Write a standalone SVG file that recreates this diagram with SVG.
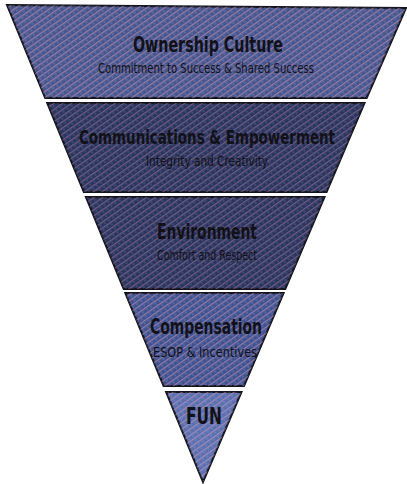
<svg xmlns="http://www.w3.org/2000/svg" width="407" height="484" viewBox="0 0 407 484">
<style>
.band{stroke:#141420;stroke-width:2;stroke-linejoin:miter}
.tex{fill:url(#tex);stroke:none}
.t{font-family:"DejaVu Sans Condensed","DejaVu Sans",sans-serif;font-weight:bold;fill:#121118;text-anchor:middle}
.s{font-family:"DejaVu Sans Condensed","DejaVu Sans",sans-serif;font-weight:normal;fill:#121118;text-anchor:middle}
</style>
<defs>
<pattern id="tex" width="5" height="5" patternUnits="userSpaceOnUse" patternTransform="rotate(-35)">
<rect x="0" y="0" width="5" height="1.3" fill="#e0a8c0" opacity="0.5"/>
<rect x="2" y="2.5" width="2" height="1" fill="#8fb0d8" opacity="0.45"/>
</pattern>
</defs>
<rect width="407" height="484" fill="#ffffff"/>
<g id="band1">
<polygon class="band" points="7,5 406,8 366.7,98 45.2,98" fill="#47558e"/>
<polygon class="tex" points="7,5 406,8 366.7,98 45.2,98"/>
<text class="t" x="208" y="52" font-size="22" textLength="150" lengthAdjust="spacingAndGlyphs">Ownership Culture</text>
<text class="s" x="206" y="73" font-size="14" textLength="216" lengthAdjust="spacingAndGlyphs">Commitment to Success &amp; Shared Success</text>
</g>
<g id="band2">
<polygon class="band" points="47.2,103 364.5,103 326.6,192 83.8,192" fill="#2b345e"/>
<polygon class="tex" points="47.2,103 364.5,103 326.6,192 83.8,192" opacity="0.75"/>
<text class="t" x="207" y="144" font-size="20" textLength="256" lengthAdjust="spacingAndGlyphs">Communications &amp; Empowerment</text>
<text class="s" x="207" y="166" font-size="14" textLength="122" lengthAdjust="spacingAndGlyphs">Integrity and Creativity</text>
</g>
<g id="band3">
<polygon class="band" points="85.9,197 324.5,197 285.3,289 123.7,289" fill="#2b345e"/>
<polygon class="tex" points="85.9,197 324.5,197 285.3,289 123.7,289" opacity="0.75"/>
<text class="t" x="207" y="239" font-size="22" textLength="100" lengthAdjust="spacingAndGlyphs">Environment</text>
<text class="s" x="207" y="260" font-size="14" textLength="100" lengthAdjust="spacingAndGlyphs">Comfort and Respect</text>
</g>
<g id="band4">
<polygon class="band" points="125.3,293 283.6,293 244,386 163.6,386" fill="#405190"/>
<polygon class="tex" points="125.3,293 283.6,293 244,386 163.6,386"/>
<text class="t" x="206" y="334" font-size="22" textLength="112" lengthAdjust="spacingAndGlyphs">Compensation</text>
<text class="s" x="205" y="357" font-size="14" textLength="104" lengthAdjust="spacingAndGlyphs">ESOP &amp; Incentives</text>
</g>
<g id="band5">
<polygon class="band" points="166.1,392 241.5,392 203,482" fill="#5a6fb0"/>
<polygon class="tex" points="166.1,392 241.5,392 203,482"/>
<text class="t" x="204" y="424" font-size="23" textLength="36" lengthAdjust="spacingAndGlyphs">FUN</text>
</g>
</svg>
